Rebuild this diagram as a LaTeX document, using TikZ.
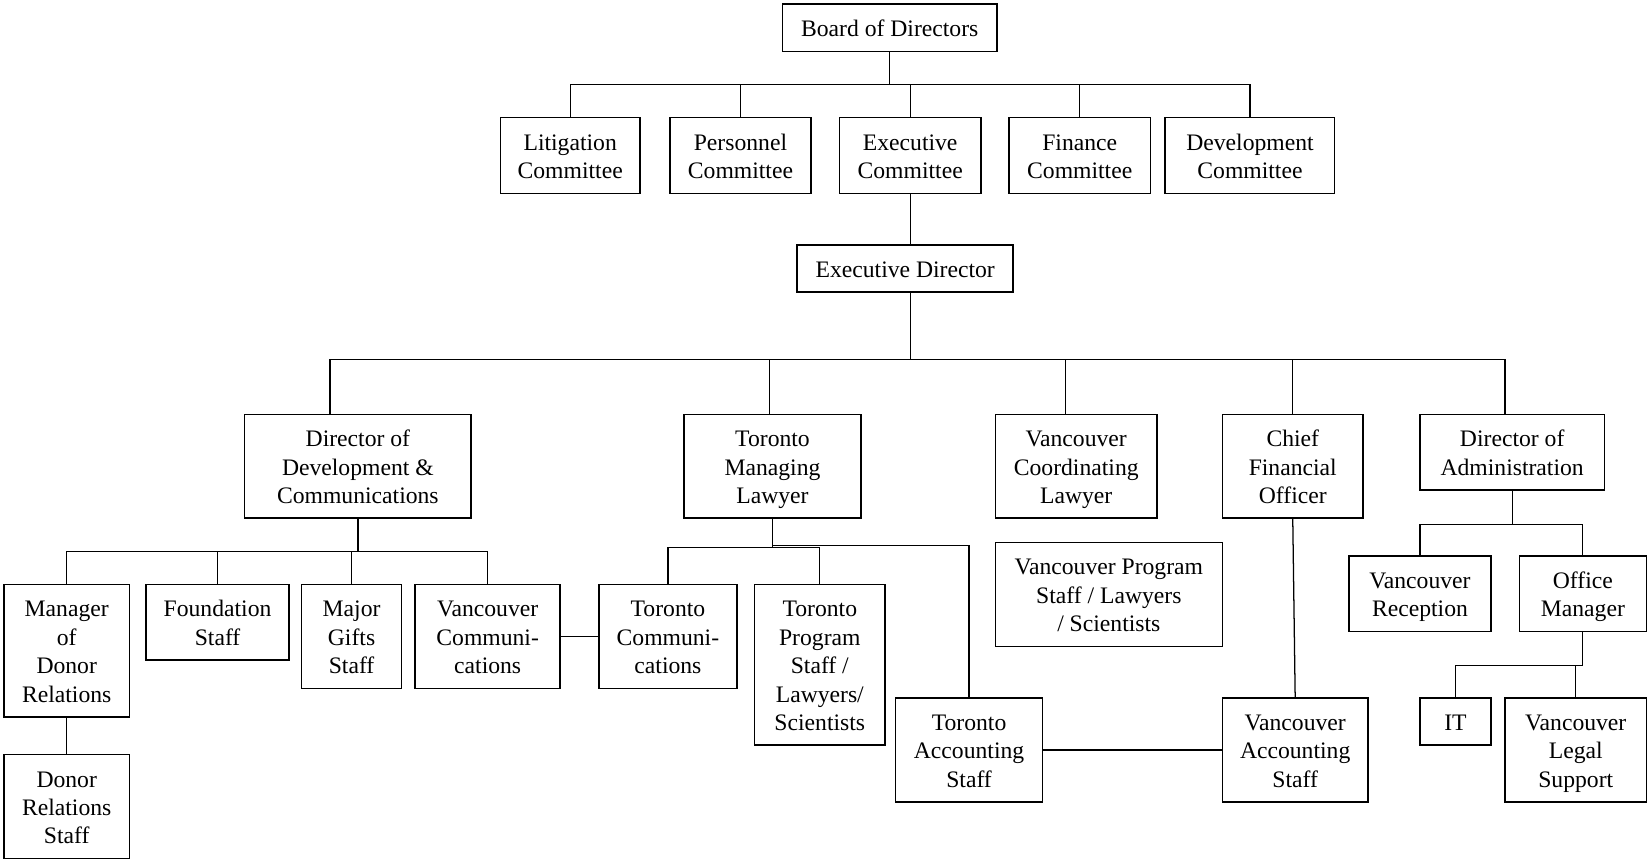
\documentclass[tikz,border=0pt]{standalone}
\usepackage{fontspec}
\setmainfont{Liberation Serif}
\newcommand\boxfont{\fontsize{22.5}{27}\selectfont}
% invisible struts giving every text block the same top and bottom clearance
\newcommand\up{\rule{0pt}{23pt}}
\newcommand\dn{\rule[-6pt]{0pt}{6pt}}
\begin{document}
\begin{tikzpicture}[x=1pt,y=-1pt,
  box/.style={draw, line width=1.4pt, inner sep=0pt, align=center, font=\boxfont},
  link/.style={line width=1.2pt}]
\useasboundingbox[fill=white] (0,0) rectangle (1568,819);

% Board and committees
\node[box, minimum width=203.8pt, minimum height=45.2pt] (board) at (846.5,26.4) {\up Board of Directors\dn};
\node[box, minimum width=133pt, minimum height=72.4pt] (lit) at (542.5,147.8) {\up Litigation\\Committee\dn};
\node[box, minimum width=134pt, minimum height=72.4pt] (pers) at (704.5,147.8) {\up Personnel\\Committee\dn};
\node[box, minimum width=134.4pt, minimum height=72.4pt] (exec) at (866,147.8) {\up Executive\\Committee\dn};
\node[box, minimum width=134.6pt, minimum height=72.4pt] (fin) at (1027.3,147.8) {\up Finance\\Committee\dn};
\node[box, minimum width=161.3pt, minimum height=72.4pt] (devc) at (1189.3,147.8) {\up Development\\Committee\dn};

% Executive director
\node[box, minimum width=205.5pt, minimum height=45pt] (ed) at (861.25,255.5) {\up Executive Director\dn};

% Senior staff
\node[box, minimum width=215.5pt, minimum height=98.5pt] (dd) at (340.5,443.75) {\up Director of\\Development \&\\Communications\dn};
\node[box, minimum width=168pt, minimum height=98.5pt] (tml) at (735,443.75) {\up Toronto\\Managing\\Lawyer\dn};
\node[box, minimum width=153.6pt, minimum height=98.5pt] (vcl) at (1024,443.75) {\up Vancouver\\Coordinating\\Lawyer\dn};
\node[box, minimum width=134pt, minimum height=98.5pt] (cfo) at (1230,443.75) {\up Chief\\Financial\\Officer\dn};
\node[box, minimum width=175.5pt, minimum height=71.5pt] (doa) at (1438.75,430.25) {\up Director of\\Administration\dn};

% Development & communications staff
\node[box, minimum width=119pt, minimum height=126pt] (mdr) at (63.5,619) {\up Manager\\of\\Donor\\Relations\dn};
\node[box, minimum width=136pt, minimum height=72pt] (fs) at (207,592) {\up Foundation\\Staff\dn};
\node[box, minimum width=95pt, minimum height=99pt] (mg) at (334.5,605.5) {\up Major\\Gifts\\Staff\dn};
\node[box, minimum width=138pt, minimum height=99pt] (vc) at (464,605.5) {\up Vancouver\\Communi-\\cations\dn};
\node[box, minimum width=119pt, minimum height=99pt] (drs) at (63.5,767.5) {\up Donor\\Relations\\Staff\dn};

% Toronto staff
\node[box, minimum width=131pt, minimum height=99pt] (tc) at (635.5,605.5) {\up Toronto\\Communi-\\cations\dn};
\node[box, minimum width=124pt, minimum height=153pt] (tps) at (780,632.5) {\up Toronto\\Program\\Staff /\\Lawyers/\\Scientists\dn};
\node[box, minimum width=140pt, minimum height=99pt] (tas) at (922,713.5) {\up Toronto\\Accounting\\Staff\dn};

% Vancouver staff
\node[box, minimum width=216pt, minimum height=99pt] (vps) at (1055,565.5) {\up Vancouver Program\\Staff / Lawyers\\/ Scientists\dn};
\node[box, minimum width=138.6pt, minimum height=99pt] (vas) at (1232.3,713.5) {\up Vancouver\\Accounting\\Staff\dn};

% Administration staff
\node[box, minimum width=135pt, minimum height=72pt] (vr) at (1351,565) {\up Vancouver\\Reception\dn};
\node[box, minimum width=121pt, minimum height=72pt] (om) at (1506,565) {\up Office\\Manager\dn};
\node[box, minimum width=67.5pt, minimum height=45pt] (it) at (1384.75,686.5) {\up IT\dn};
\node[box, minimum width=134.5pt, minimum height=99pt] (vls) at (1499.25,713.5) {\up Vancouver\\Legal\\Support\dn};

% Board to committees
\foreach \c in {lit,pers,exec,fin,devc}
  \draw[link] (board.south) -- ++(0,31) -| (\c.north);

% Executive committee to executive director
\draw[link] (exec.south) -- (exec.south |- ed.north);

% Executive director to senior staff
\draw[link] (exec.south |- ed.south) -- ++(0,63) -| ([xshift=-26.5pt]dd.north);
\draw[link] (exec.south |- ed.south) -- ++(0,63) -| ([xshift=-3pt]tml.north);
\draw[link] (exec.south |- ed.south) -- ++(0,63) -| ([xshift=-10pt]vcl.north);
\draw[link] (exec.south |- ed.south) -- ++(0,63) -| (cfo.north);
\draw[link] (exec.south |- ed.south) -- ++(0,63) -| ([xshift=-6.75pt]doa.north);

% Development & communications
\foreach \c in {mdr,fs,mg,vc}
  \draw[link] (dd.south) -- ++(0,31) -| (\c.north);
\draw[link] (mdr.south) -- (drs.north);
\draw[link] (vc.east) -- (tc.west);

% Toronto managing lawyer
\draw[link] (tml.south) -- ++(0,27) -| (tc.north);
\draw[link] (tml.south) -- ++(0,27) -| (tps.north);
\draw[link] (tml.south) -- ++(0,25) -| (tas.north);

% Accounting
\draw[link] (cfo.south) -- (vas.north);
\draw[link] (tas.east) -- (vas.west);

% Administration
\draw[link] (doa.south) -- ++(0,32) -| (vr.north);
\draw[link] (doa.south) -- ++(0,32) -| (om.north);
\draw[link] (om.south) -- ++(0,31.6) -| (it.north);
\draw[link] (om.south) -- ++(0,31.6) -| (vls.north);
\end{tikzpicture}
\end{document}
